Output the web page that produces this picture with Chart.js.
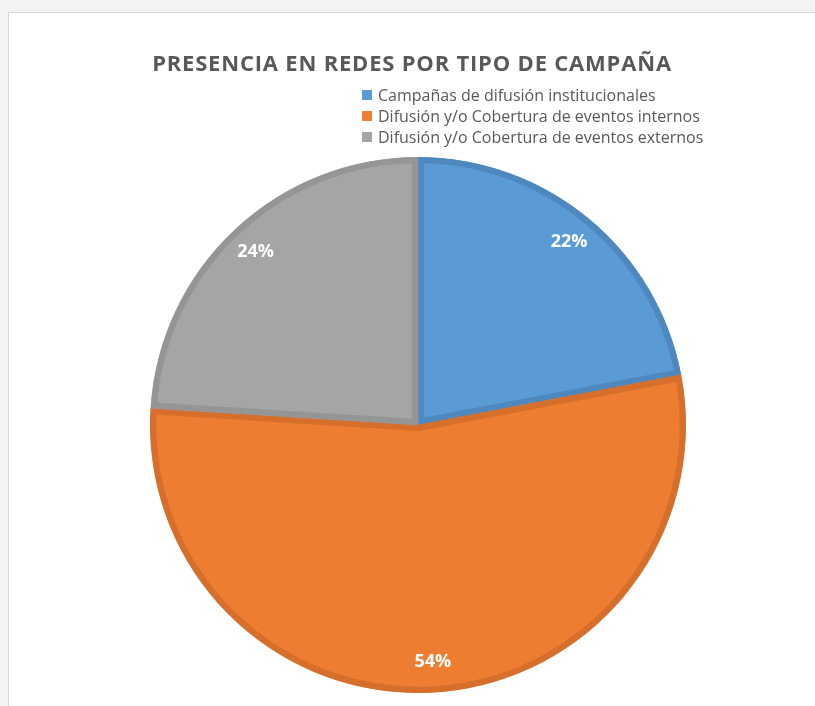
<!DOCTYPE html>
<html>
<head>
<meta charset="utf-8">
<script src="https://cdn.jsdelivr.net/npm/chart.js@4"></script>
<style>
  html, body { margin: 0; padding: 0; background: #ffffff; }
  #wrap { position: relative; width: 815px; height: 706px; }
</style>
</head>
<body>
<div id="wrap"><canvas id="PieChart" width="815" height="706"></canvas></div>
<script>
// chart values
const titleText = "PRESENCIA EN REDES POR TIPO DE CAMPAÑA";
const categories = [
    "Campañas de difusión institucionales",
    "Difusión y/o Cobertura de eventos internos",
    "Difusión y/o Cobertura de eventos externos"
];
const percentages = [22, 54, 24];
const sliceColors = ["#5b9bd5", "#ed7d31", "#a5a5a5"];
const sliceBorders = ["#4f88bf", "#d66f2b", "#959595"];

// frame of the sheet around the chart
const framePlugin = {
    id: "frame",
    beforeDraw(chart){
        const ctx = chart.ctx;
        ctx.save();
        ctx.fillStyle = "#f3f3f3";
        ctx.fillRect(0, 0, chart.width, 12);
        ctx.fillRect(0, 0, 8, chart.height);
        ctx.fillStyle = "#d6d6d6";
        ctx.fillRect(8, 12, chart.width - 8, 1);
        ctx.fillRect(8, 12, 1, chart.height - 12);
        ctx.fillStyle = "#ffffff";
        ctx.fillRect(9, 13, chart.width - 9, chart.height - 13);
        ctx.restore();
    }
};

// title, legend and percentage labels
const textPlugin = {
    id: "texts",
    afterDraw(chart){
        const ctx = chart.ctx;
        ctx.save();
        //title
        ctx.fillStyle = "#595959";
        ctx.font = "bold 22px 'Open Sans'";
        ctx.letterSpacing = "0.8px";
        ctx.textAlign = "center";
        ctx.textBaseline = "middle";
        ctx.fillText(titleText, 412, 65);
        ctx.letterSpacing = "0px";
        //legend
        ctx.font = "16px 'Open Sans'";
        ctx.textAlign = "left";
        for(let i = 0; i < categories.length; i++){
            let y = 95 + i * 21;
            ctx.fillStyle = sliceColors[i];
            ctx.fillRect(362, y - 5, 10, 10);
            ctx.fillStyle = "#595959";
            ctx.fillText(categories[i], 378, y + 1);
        }
        //percent labels
        const meta = chart.getDatasetMeta(0);
        ctx.fillStyle = "#ffffff";
        ctx.font = "bold 18px 'Open Sans'";
        ctx.textAlign = "center";
        meta.data.forEach((arc, i) => {
            const p = arc.getProps(["x", "y", "startAngle", "endAngle", "outerRadius"], true);
            const mid = (p.startAngle + p.endAngle) / 2;
            const r = p.outerRadius * 0.885;
            ctx.fillText(percentages[i] + "%", p.x + Math.cos(mid) * r, p.y + Math.sin(mid) * r);
        });
        ctx.restore();
    }
};

var config = {
    type : "pie",
    data : {
        labels: categories,
        datasets: [{
            data : percentages,
            backgroundColor : sliceColors,
            borderColor : sliceBorders,
            borderWidth : 6,
            borderAlign : "inner"
        }]
    },
    options: {
        responsive: false,
        animation: false,
        layout: {
            padding: { left: 150, right: 129, top: 157, bottom: 13 }
        },
        plugins: {
            legend: { display: false },
            title: { display: false },
            tooltip: { enabled: false }
        }
    },
    plugins: [framePlugin, textPlugin]
};

window.myPie = new Chart(document.getElementById("PieChart"), config);
</script>
</body>
</html>
